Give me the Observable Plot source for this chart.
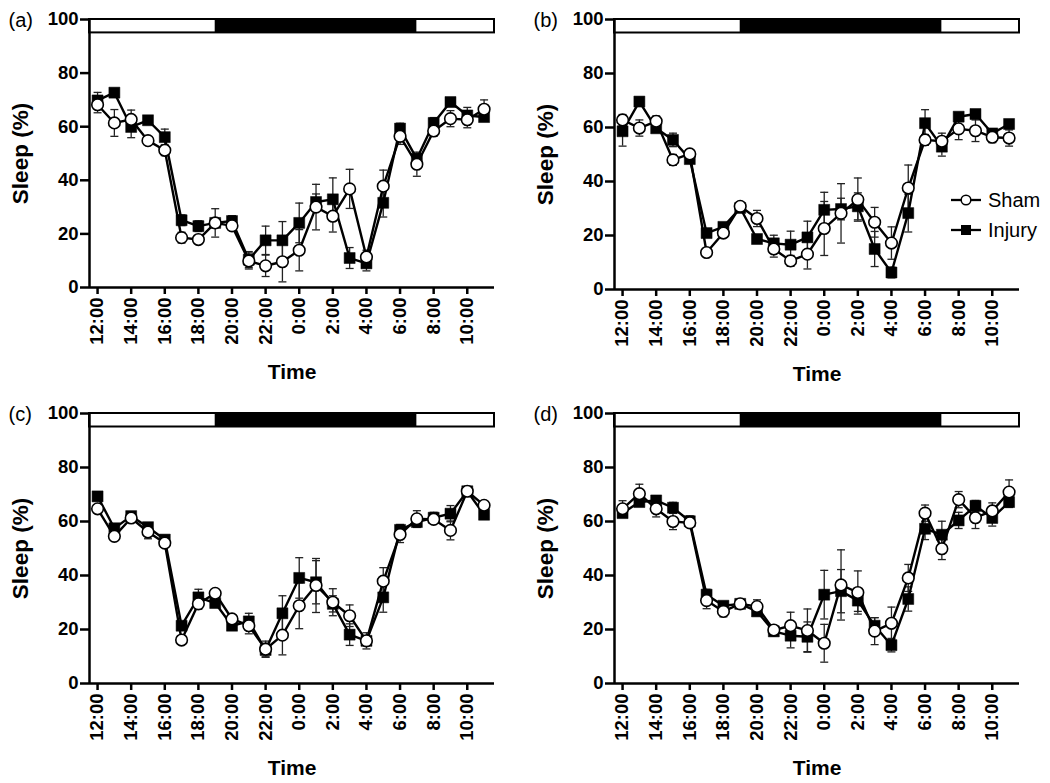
<!DOCTYPE html>
<html>
<head>
<meta charset="utf-8">
<script src="https://cdn.jsdelivr.net/npm/d3@7"></script>
<script src="https://cdn.jsdelivr.net/npm/@observablehq/plot@0.6"></script>
<style>
  body { margin: 0; background: #fff; }
  #root { position: relative; width: 1050px; height: 783px; background: #fff; font-family: "Liberation Sans", Arial, sans-serif; }
  .panel { position: absolute; }
  .legend { position: absolute; font-size: 20px; color: #000; }
  .legend .row { display: flex; align-items: center; height: 30px; }
  .legend svg { margin-right: 6px; }
</style>
</head>
<body>
<div id="root"></div>
<script>
// ---------- data ----------
const hours = ["12:00","13:00","14:00","15:00","16:00","17:00","18:00","19:00","20:00","21:00","22:00","23:00",
               "0:00","1:00","2:00","3:00","4:00","5:00","6:00","7:00","8:00","9:00","10:00","11:00"];
const tickLabels = ["12:00","14:00","16:00","18:00","20:00","22:00","0:00","2:00","4:00","6:00","8:00","10:00"];
const yTicks = [0, 20, 40, 60, 80, 100];
const lightsOff = "19:00";
const lightsOn = "7:00";
const seriesNames = ["Sham", "Injury"];
const panelLetters = ["(a)", "(b)", "(c)", "(d)"];

const shamA = [68.2,61.4,62.7,54.8,51.2,18.6,17.9,24.1,23.0,9.9,8.1,9.6,13.9,30.0,26.6,36.8,11.4,37.8,56.4,46.0,58.4,63.0,62.6,66.5];
const shamErrA = [3,5,3.5,1,2,2,1.5,5.3,1.5,3,4,7.5,7.7,8.5,5.9,7.3,2.5,6,3,4.5,2,3,3,3.5];
const injuryA = [69.8,72.7,59.9,62.4,56.1,25.1,22.9,24.1,24.8,10.4,17.6,17.6,24.1,31.9,32.9,11.0,9.0,31.6,59.3,48.0,61.4,69.2,64.2,63.6];
const injuryErrA = [3,1,4,1,3,2,2,1,2,3,5.3,7,7.4,3,8,3.9,2.8,5.3,2,2,2,1,3,1];

const shamB = [62.8,59.8,62.3,48.0,50.2,13.7,20.9,30.8,26.3,15.0,10.6,13.1,22.6,28.2,33.3,24.9,17.2,37.6,55.4,54.9,59.5,58.8,56.4,56.1];
const shamErrB = [2,3,2,2,1,1,1.5,1.5,3,3,2,5.5,10,11,8,5.5,6,8.5,2,3,4,4,2,3];
const injuryB = [58.6,69.6,59.7,55.4,48.3,20.9,23.2,30.2,18.7,17.1,16.6,19.3,29.5,29.8,30.8,15.0,6.3,28.3,61.6,52.9,64.0,65.0,57.8,61.3];
const injuryErrB = [5.5,1,1,2.5,1,1,1,1,1.5,3,5,6,6.5,4,5,6.5,2,7,5,3.5,1.5,1.5,1,1];

const shamC = [64.7,54.5,61.3,56.1,52.0,16.1,29.5,33.4,23.9,21.4,12.7,17.9,28.8,36.3,30.1,25.1,15.8,37.9,55.2,61.0,60.8,56.7,71.2,66.0];
const shamErrC = [1.5,1.5,1.5,2.5,1,1,2,1,1,3,3,7.3,8.5,10,5,4,3,5,3,3,1.5,3.5,1,1];
const injuryC = [69.3,57.5,62.0,57.9,53.3,21.4,31.9,29.8,21.4,23.0,12.4,26.0,39.1,37.5,29.5,18.1,15.8,31.9,56.9,59.8,61.4,62.9,71.2,62.5];
const injuryErrC = [1,1,1,1,1,1,3,1,1,3,2.5,6.5,7.5,8,3,4,1.5,5.5,2,2,2,3,1,1];

const shamD = [64.7,70.3,64.7,60.0,59.5,30.7,26.7,29.5,28.5,19.8,21.4,19.6,14.9,36.5,33.7,19.4,22.3,39.1,63.1,49.9,68.1,61.4,63.9,70.9];
const shamErrD = [3,3.5,3,3,1,3,2,1,2.5,1,5,8,7,13,8,5,6,5,3,4,3,4,3,4.5];
const injuryD = [63.1,67.2,67.8,65.1,60.1,32.9,28.8,29.5,26.7,19.3,17.7,17.3,32.9,34.2,30.7,21.4,14.2,31.3,57.3,55.1,60.4,65.8,61.3,67.2];
const injuryErrD = [1,1,1,2,2,2,1,1,1,1,4.5,5.5,9,8,4,3,2.5,4.5,4,5,3,2,3,2];

// ---------- layout ----------
const panels = [
  {letter: panelLetters[0], sham: shamA, shamErr: shamErrA, injury: injuryA, injuryErr: injuryErrA, left: 0,   top: 0,   height: 390, mt: 19, mb: 103},
  {letter: panelLetters[1], sham: shamB, shamErr: shamErrB, injury: injuryB, injuryErr: injuryErrB, left: 525, top: 0,   height: 390, mt: 19, mb: 101},
  {letter: panelLetters[2], sham: shamC, shamErr: shamErrC, injury: injuryC, injuryErr: injuryErrC, left: 0,   top: 390, height: 393, mt: 23, mb: 100},
  {letter: panelLetters[3], sham: shamD, shamErr: shamErrD, injury: injuryD, injuryErr: injuryErrD, left: 525, top: 390, height: 393, mt: 23, mb: 100}
];

const capSymbol = {
  draw(context, size) {
    const r = Math.sqrt(size / Math.PI);
    context.moveTo(-r, 0);
    context.lineTo(r, 0);
  }
};

const FONT = '"Liberation Sans", Arial, sans-serif';

function makePanel(cfg) {
  const rows = hours.map((h, i) => ({
    i, h,
    sham: cfg.sham[i], shamLo: cfg.sham[i] - cfg.shamErr[i], shamHi: cfg.sham[i] + cfg.shamErr[i],
    inj: cfg.injury[i], injLo: cfg.injury[i] - cfg.injuryErr[i], injHi: cfg.injury[i] + cfg.injuryErr[i]
  }));
  const x0 = -0.48, x1 = 23.62;
  const off = hours.indexOf(lightsOff), on = hours.indexOf(lightsOn);
  const bar = [{a: x0, b: x1}];
  const dark = [{a: off, b: on}];
  const tickIdx = tickLabels.map(t => hours.indexOf(t));

  const errMarks = (lo, hi) => [
    Plot.ruleX(rows, {x: "i", y1: lo, y2: hi, stroke: "#222", strokeWidth: 1.3}),
    Plot.dot(rows, {x: "i", y: hi, symbol: capSymbol, r: 4, stroke: "#222", strokeWidth: 1.3}),
    Plot.dot(rows, {x: "i", y: lo, symbol: capSymbol, r: 4, stroke: "#222", strokeWidth: 1.3})
  ];

  return Plot.plot({
    width: 525,
    height: cfg.height,
    marginLeft: 89,
    marginRight: 31,
    marginTop: cfg.mt,
    marginBottom: cfg.mb,
    x: {domain: [x0, x1]},
    y: {domain: [0, 100]},
    style: {fontFamily: FONT, fontSize: "18px", color: "black", background: "transparent", overflow: "visible"},
    marks: [
      Plot.rect(bar, {x1: "a", x2: "b", y1: () => 95, y2: () => 100, fill: "white", stroke: "black", strokeWidth: 2}),
      Plot.rect(dark, {x1: "a", x2: "b", y1: () => 95, y2: () => 100, fill: "black"}),
      ...errMarks("injLo", "injHi"),
      ...errMarks("shamLo", "shamHi"),
      Plot.line(rows, {x: "i", y: "inj", stroke: "black", strokeWidth: 2.4}),
      Plot.line(rows, {x: "i", y: "sham", stroke: "black", strokeWidth: 2.4}),
      Plot.dot(rows, {x: "i", y: "inj", symbol: "square", r: 6.2, fill: "black", stroke: "black", strokeWidth: 0.5}),
      Plot.dot(rows, {x: "i", y: "sham", symbol: "circle", r: 5.8, fill: "white", stroke: "black", strokeWidth: 1.6}),
      Plot.axisY({ticks: yTicks, tickSize: 9, tickPadding: 2, strokeWidth: 2.5, label: null, fontSize: 18.5, fontWeight: "bold"}),
      Plot.axisX({ticks: tickIdx, tickFormat: i => hours[i], tickRotate: -90, tickSize: 7, tickPadding: 3, strokeWidth: 2.5, label: null, fontSize: 18.5, fontWeight: "bold"}),
      Plot.ruleX([x0], {stroke: "black", strokeWidth: 2.5}),
      Plot.ruleY([0], {stroke: "black", strokeWidth: 2.5}),
      Plot.text(["Sleep (%)"], {frameAnchor: "left", dx: -69, rotate: -90, textAnchor: "middle", lineAnchor: "middle", fontSize: 22.5, fontWeight: "bold"}),
      Plot.text(["Time"], {frameAnchor: "bottom", dy: 85, textAnchor: "middle", lineAnchor: "middle", fontSize: 21, fontWeight: "bold"}),
      Plot.text([cfg.letter], {frameAnchor: "top-left", dx: -81, dy: 1, textAnchor: "start", lineAnchor: "middle", fontSize: 20})
    ]
  });
}

const root = document.getElementById("root");
for (const cfg of panels) {
  const div = document.createElement("div");
  div.className = "panel";
  div.style.left = cfg.left + "px";
  div.style.top = cfg.top + "px";
  div.appendChild(makePanel(cfg));
  root.appendChild(div);
}

// legend for panel (b)
const legend = document.createElement("div");
legend.className = "legend";
legend.style.left = "950px";
legend.style.top = "185px";
const symbols = {
  Sham: '<svg width="32" height="14"><line x1="1" y1="7" x2="31" y2="7" stroke="black" stroke-width="2.3"/><circle cx="16" cy="7" r="4.8" fill="white" stroke="black" stroke-width="1.5"/></svg>',
  Injury: '<svg width="32" height="14"><line x1="1" y1="7" x2="31" y2="7" stroke="black" stroke-width="2.3"/><rect x="11" y="2" width="10" height="10" fill="black"/></svg>'
};
for (const name of seriesNames) {
  const row = document.createElement("div");
  row.className = "row";
  row.innerHTML = symbols[name] + "<span>" + name + "</span>";
  legend.appendChild(row);
}
root.appendChild(legend);
</script>
</body>
</html>
